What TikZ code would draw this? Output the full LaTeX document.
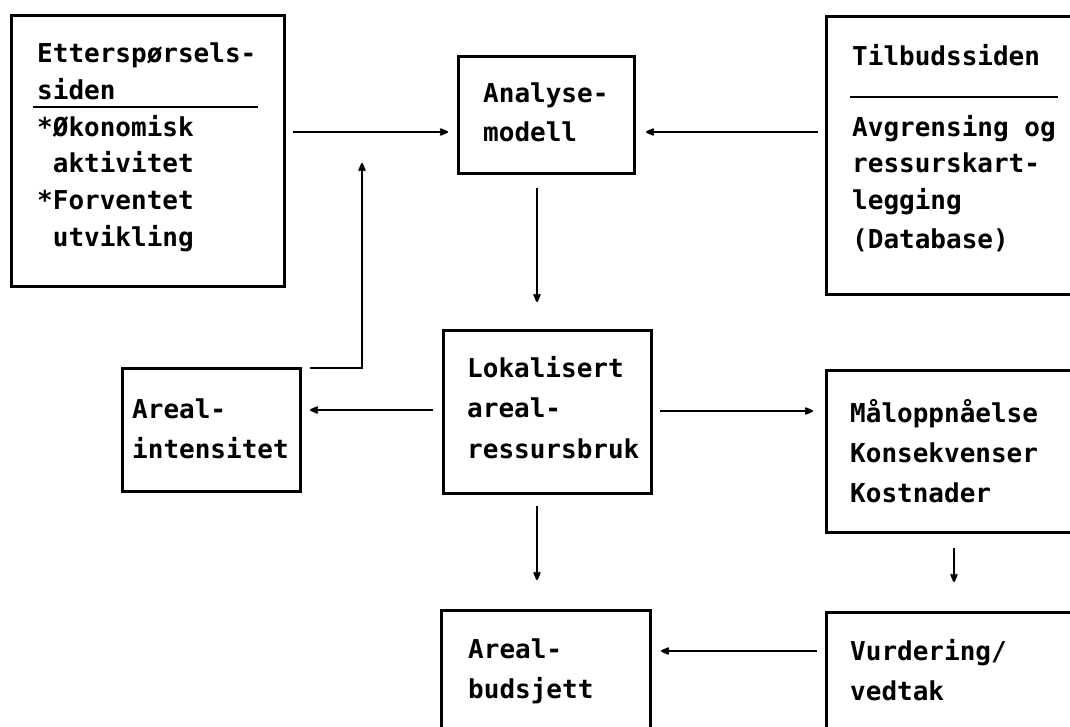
\documentclass[tikz,border=0pt]{standalone}
\usepackage{fontspec}
\setmonofont{DejaVu Sans Mono}
\usetikzlibrary{arrows.meta,calc}
\begin{document}
\begin{tikzpicture}[x=1pt,y=-1pt,
  box/.style={draw,line width=3pt,inner sep=0pt,anchor=north west},
  txt/.style={anchor=base west,inner sep=0pt,font=\ttfamily\bfseries\fontsize{26}{30}\selectfont},
  rule/.style={line width=2.6pt},
  arr/.style={line width=2.6pt,-{Stealth[length=12pt,width=10pt,round]}}]
\useasboundingbox (0,0) rectangle (1070,727);
\clip (0,0) rectangle (1070,727);
% boxes
\node[box,minimum width=273pt,minimum height=271pt] (dem) at (10,14) {};
\node[box,minimum width=176pt,minimum height=117pt] (ana) at (457,55) {};
\node[box,minimum width=265pt,minimum height=278pt] (sup) at (825,15) {};
\node[box,minimum width=208pt,minimum height=163pt] (lok) at (442,329) {};
\node[box,minimum width=178pt,minimum height=123pt] (int) at (121,367) {};
\node[box,minimum width=265pt,minimum height=162pt] (maal) at (825,369) {};
\node[box,minimum width=265pt,minimum height=150pt] (vurd) at (825,611) {};
\node[box,minimum width=209pt,minimum height=152pt] (bud) at (440,609) {};
% texts
\node[txt] (dem1) at (37,63) {Etterspørsels-};
\node[txt] (dem2) at (37,100) {siden};
\node[txt] (dem3) at (37,137) {*Økonomisk};
\node[txt] (dem4) at (37,173) {~aktivitet};
\node[txt] (dem5) at (37,210) {*Forventet};
\node[txt] (dem6) at (37,247) {~utvikling};
\draw[rule] (33,107) coordinate (u1) -- (258,107) coordinate (u2);
\node[txt] (sup1) at (852,66) {Tilbudssiden};
\draw[rule] (850,97) coordinate (u3) -- (1058,97) coordinate (u4);
\node[txt] (sup2) at (852,137) {Avgrensing og};
\node[txt] (sup3) at (852,173) {ressurskart-};
\node[txt] (sup4) at (852,210) {legging};
\node[txt] (sup5) at (852,248) {(Database)};
\node[txt] (ana1) at (483,103) {Analyse-};
\node[txt] (ana2) at (483,142) {modell};
\node[txt] (lok1) at (467,377) {Lokalisert};
\node[txt] (lok2) at (467,417) {areal-};
\node[txt] (lok3) at (467,458) {ressursbruk};
\node[txt] (int1) at (132,418) {Areal-};
\node[txt] (int2) at (132,458) {intensitet};
\node[txt] (maal1) at (850,422) {Måloppnåelse};
\node[txt] (maal2) at (850,462) {Konsekvenser};
\node[txt] (maal3) at (850,502) {Kostnader};
\node[txt] (vurd1) at (850,660) {Vurdering/};
\node[txt] (vurd2) at (850,700) {vedtak};
\node[txt] (bud1) at (468,658) {Areal-};
\node[txt] (bud2) at (468,698) {budsjett};
% connectors
\draw[arr] ($(dem.east|-0,132)+(7,0)$) -- ($(ana.west|-0,132)+(-9,0)$);
\draw[arr] ($(sup.west|-0,132)+(-7,0)$) -- ($(ana.east|-0,132)+(10,0)$);
\draw[arr] ($(ana.south-|537,0)+(0,13)$) -- ($(lok.north-|537,0)+(0,-27)$);
\draw[arr] ($(lok.west|-0,410)+(-9,0)$) -- ($(int.east|-0,410)+(8,0)$);
\draw[arr] ($(int.north east)+(8,1)$) -| ($(dem.south-|362,0)+(0,-125)$);
\draw[arr] ($(lok.east|-0,411)+(7,0)$) -- ($(maal.west|-0,411)+(-12,0)$);
\draw[arr] ($(maal.south-|954,0)+(0,14)$) -- ($(vurd.north-|954,0)+(0,-29)$);
\draw[arr] ($(lok.south-|537,0)+(0,11)$) -- ($(bud.north-|537,0)+(0,-29)$);
\draw[arr] ($(vurd.west|-0,651)+(-8,0)$) -- ($(bud.east|-0,651)+(9,0)$);
\end{tikzpicture}
\end{document}
